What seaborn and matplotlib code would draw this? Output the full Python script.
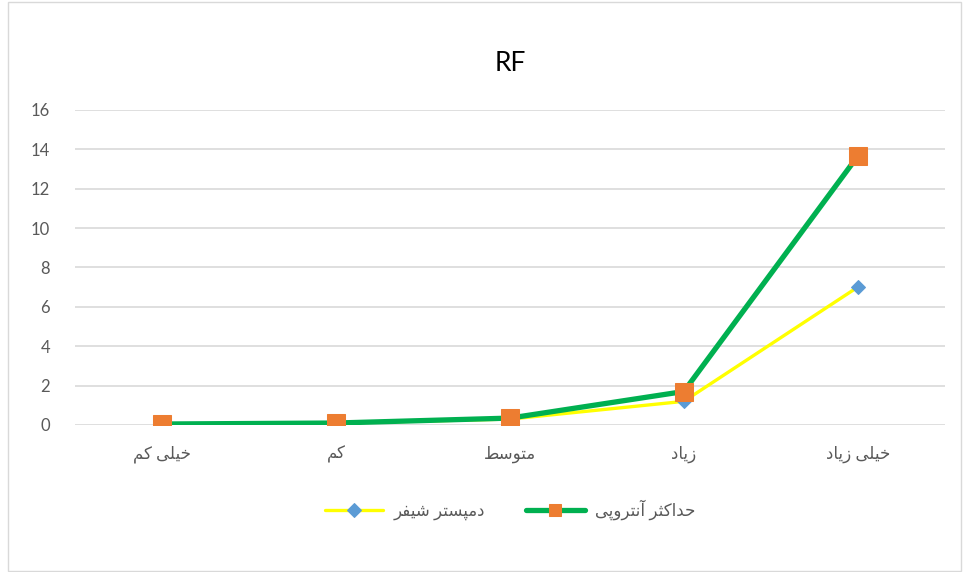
import pandas as pd
import matplotlib
matplotlib.use('Agg')
import matplotlib.pyplot as plt
import seaborn as sns
from matplotlib.patches import Rectangle

# data
categories = ['خیلی کم', 'کم', 'متوسط', 'زیاد', 'خیلی زیاد']
dempster = [0.05, 0.1, 0.3, 1.2, 7.0]
max_entropy = [0.05, 0.1, 0.35, 1.7, 13.65]
series_names = ['دمپستر شیفر', 'حداکثر آنتروپی']
title = 'RF'

# matplotlib has no arabic shaping, so pick presentation forms by hand
# (isolated, final, initial, medial)
FORMS = {
    'ا': ('\uFE8D', '\uFE8E'),
    'آ': ('\uFE81', '\uFE82'),
    'د': ('\uFEA9', '\uFEAA'),
    'ر': ('\uFEAD', '\uFEAE'),
    'ز': ('\uFEAF', '\uFEB0'),
    'و': ('\uFEED', '\uFEEE'),
    'ت': ('\uFE95', '\uFE96', '\uFE97', '\uFE98'),
    'ث': ('\uFE99', '\uFE9A', '\uFE9B', '\uFE9C'),
    'ح': ('\uFEA1', '\uFEA2', '\uFEA3', '\uFEA4'),
    'خ': ('\uFEA5', '\uFEA6', '\uFEA7', '\uFEA8'),
    'س': ('\uFEB1', '\uFEB2', '\uFEB3', '\uFEB4'),
    'ش': ('\uFEB5', '\uFEB6', '\uFEB7', '\uFEB8'),
    'ط': ('\uFEC1', '\uFEC2', '\uFEC3', '\uFEC4'),
    'ف': ('\uFED1', '\uFED2', '\uFED3', '\uFED4'),
    'ل': ('\uFEDD', '\uFEDE', '\uFEDF', '\uFEE0'),
    'م': ('\uFEE1', '\uFEE2', '\uFEE3', '\uFEE4'),
    'ن': ('\uFEE5', '\uFEE6', '\uFEE7', '\uFEE8'),
    'پ': ('\uFB56', '\uFB57', '\uFB58', '\uFB59'),
    'ک': ('\uFB8E', '\uFB8F', '\uFB90', '\uFB91'),
    'ی': ('\uFBFC', '\uFBFD', '\uFBFE', '\uFBFF'),
}


def shape(s):
    out = []
    for i, c in enumerate(s):
        if c not in FORMS:
            out.append(c)
            continue
        f = FORMS[c]
        prev = s[i - 1] if i > 0 else ''
        nxt = s[i + 1] if i + 1 < len(s) else ''
        join_prev = prev in FORMS and len(FORMS[prev]) == 4
        join_next = len(f) == 4 and nxt in FORMS
        if join_prev and join_next:
            out.append(f[3])
        elif join_prev:
            out.append(f[1])
        elif join_next:
            out.append(f[2])
        else:
            out.append(f[0])
    return ''.join(reversed(out))


sns.set_style('white')
plt.rcParams['font.family'] = ['Lato', 'DejaVu Sans']

df = pd.DataFrame({
    'pos': list(range(len(categories))) * 2,
    'value': dempster + max_entropy,
    'series': [series_names[0]] * len(categories) + [series_names[1]] * len(categories),
})

fig = plt.figure(figsize=(9.63, 5.72), dpi=100)
ax = fig.add_axes([0.078, 0.257, 0.903, 0.551])

sns.lineplot(data=df[df['series'] == series_names[0]], x='pos', y='value', ax=ax,
             color='#FFFF00', linewidth=2.4, marker='D', markersize=7,
             markerfacecolor='#5B9BD5', markeredgecolor='#5B9BD5',
             label=shape(series_names[0]), zorder=3)
sns.lineplot(data=df[df['series'] == series_names[1]], x='pos', y='value', ax=ax,
             color='#00B050', linewidth=3.8, marker='s', markersize=13.5,
             markerfacecolor='#ED7D31', markeredgecolor='#ED7D31',
             label=shape(series_names[1]), zorder=4)

ax.set_xlim(-0.5, len(categories) - 0.5)
ax.set_ylim(0, 16)
ax.set_yticks(range(0, 17, 2))
ax.set_xticks(range(len(categories)))
ax.set_xticklabels([shape(c) for c in categories])
ax.tick_params(axis='both', length=0, labelsize=12, labelcolor='#595959')
ax.tick_params(axis='x', pad=15)
ax.tick_params(axis='y', pad=18)
ax.set_xlabel('')
ax.set_ylabel('')
ax.grid(axis='y', color='#D9D9D9', linewidth=1.2)
ax.set_axisbelow(True)
for sp in ax.spines.values():
    sp.set_visible(False)

ax.set_title(title, fontsize=19, color='#000000', pad=28)

leg = ax.legend(loc='upper center', bbox_to_anchor=(0.5, -0.19), ncol=2, frameon=False,
                fontsize=12, labelcolor='#595959', handlelength=3.5, columnspacing=2.5,
                handletextpad=0.6)
# legend markers are smaller than the ones on the plot
for h, ms in zip(leg.legend_handles, [7, 8]):
    h.set_markersize(ms)

# thin chart border like the office chart frame
fig.patches.append(Rectangle((0.008, 0.002), 0.99, 0.994, transform=fig.transFigure,
                             fill=False, edgecolor='#D9D9D9', linewidth=1))

fig.savefig('out.png', dpi=100)
